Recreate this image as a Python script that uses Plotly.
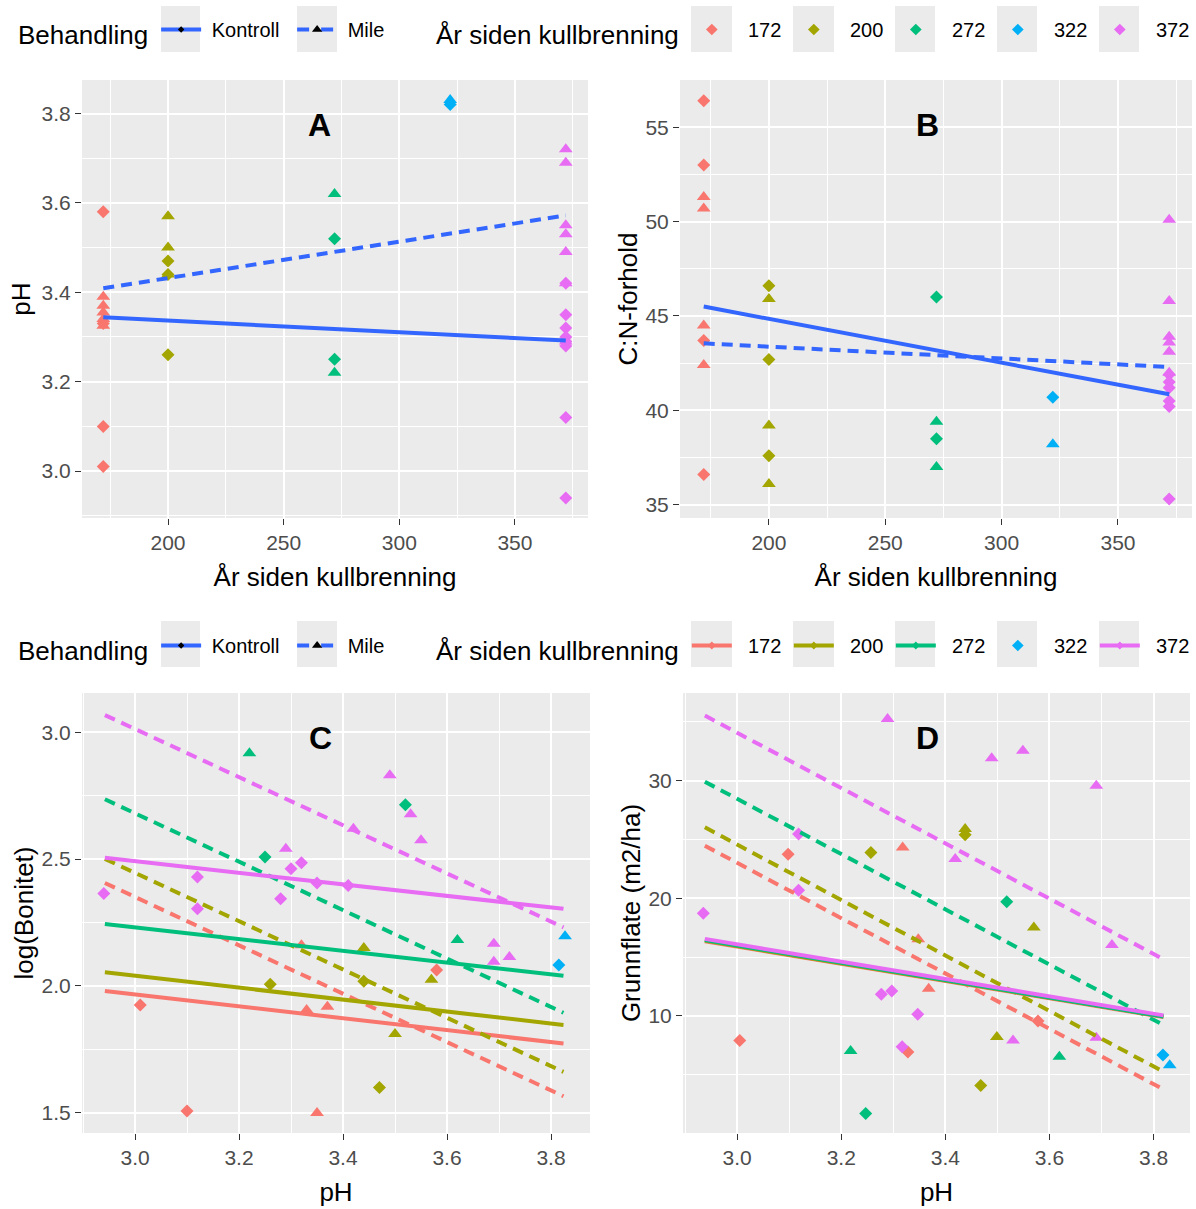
import plotly.graph_objects as go

FONT = "Liberation Sans, Arial, sans-serif"
W, H = 1196, 1209

GROUPS = ["172", "200", "272", "322", "372"]
YEARS = {"172": 172, "200": 200, "272": 272, "322": 322, "372": 372}
GROUP_COLORS = {"172": "#F8766D", "200": "#A3A500", "272": "#00BF7D", "322": "#00B0F6", "372": "#E76BF3"}
SMOOTH_BLUE = "#3366FF"
TREATMENTS = ["Kontroll", "Mile"]

# ---------------- Panel A: pH vs years since charcoal burning ----------------
A_pH_kontroll = {"172": [3.58, 3.33, 3.10, 3.01], "200": [3.47, 3.44, 3.26], "272": [3.52, 3.25],
                 "322": [3.82], "372": [3.42, 3.35, 3.32, 3.30, 3.29, 3.28, 3.12, 2.94]}
A_pH_mile = {"172": [3.39, 3.37, 3.355, 3.34, 3.325], "200": [3.57, 3.50, 3.44], "272": [3.62, 3.22],
             "322": [3.83], "372": [3.72, 3.69, 3.55, 3.53, 3.49, 3.42, 3.29]}
A_fit_years = [172, 372]
A_fit_kontroll = [3.344, 3.292]
A_fit_mile = [3.409, 3.572]

# ---------------- Panel B: C:N ratio vs years ----------------
B_cn_kontroll = {"172": [56.4, 53.0, 43.7, 36.6], "200": [46.6, 42.7, 37.6], "272": [46.0, 38.5],
                 "322": [40.7], "372": [41.9, 41.5, 41.2, 40.5, 40.2, 35.3]}
B_cn_mile = {"172": [51.3, 50.7, 44.5, 42.4], "200": [45.9, 39.2, 36.1], "272": [39.4, 37.0],
             "322": [38.2], "372": [50.1, 45.8, 43.9, 43.6, 43.1, 42.0]}
B_fit_years = [172, 372]
B_fit_kontroll = [45.5, 40.85]
B_fit_mile = [43.55, 42.3]

# ---------------- Panel C: log(Bonitet) vs pH ----------------
C_pH_kontroll = {"172": [3.01, 3.10, 3.58], "200": [3.26, 3.44, 3.47], "272": [3.25, 3.52],
                 "322": [3.815], "372": [2.94, 3.12, 3.12, 3.28, 3.30, 3.32, 3.35, 3.41]}
C_val_kontroll = {"172": [1.925, 1.507, 2.063], "200": [2.007, 2.018, 1.599], "272": [2.508, 2.714],
                  "322": [2.082], "372": [2.364, 2.429, 2.304, 2.344, 2.462, 2.486, 2.406, 2.396]}
C_pH_mile = {"172": [3.32, 3.33, 3.35, 3.37], "200": [3.44, 3.50, 3.57], "272": [3.22, 3.62],
             "322": [3.827], "372": [3.29, 3.42, 3.49, 3.53, 3.55, 3.69, 3.69, 3.72]}
C_val_mile = {"172": [2.16, 1.905, 1.499, 1.918], "200": [2.149, 1.810, 2.024], "272": [2.917, 2.181],
              "322": [2.196], "372": [2.541, 2.620, 2.831, 2.677, 2.574, 2.166, 2.095, 2.114]}
C_fit_pH = [2.942, 3.824]
C_fit_kontroll = {"172": [1.980, 1.773], "200": [2.054, 1.846], "272": [2.244, 2.040], "372": [2.505, 2.304]}
C_fit_mile = {"172": [2.406, 1.565], "200": [2.501, 1.661], "272": [2.736, 1.894], "372": [3.068, 2.231]}

# ---------------- Panel D: Grunnflate vs pH ----------------
D_pH_kontroll = {"172": [3.005, 3.098, 3.328, 3.578], "200": [3.257, 3.438, 3.468], "272": [3.247, 3.518],
                 "322": [3.818], "372": [2.935, 3.118, 3.118, 3.277, 3.297, 3.317, 3.347]}
D_val_kontroll = {"172": [7.92, 23.75, 6.94, 9.57], "200": [23.9, 25.4, 4.09], "272": [1.71, 19.70],
                  "322": [6.68], "372": [18.73, 25.46, 20.69, 11.84, 12.13, 7.39, 10.14]}
D_pH_mile = {"172": [3.318, 3.348, 3.368], "200": [3.438, 3.499, 3.570], "272": [3.218, 3.619],
             "322": [3.831], "372": [3.289, 3.419, 3.489, 3.530, 3.549, 3.690, 3.690, 3.720]}
D_val_mile = {"172": [24.32, 16.52, 12.32], "200": [25.9, 8.21, 17.51], "272": [7.02, 6.54],
              "322": [5.80], "372": [35.24, 23.33, 31.9, 7.92, 32.55, 29.57, 8.15, 16.04]}
D_fit_pH = [2.938, 3.819]
D_fit_kontroll = {"172": [16.35, 9.9], "200": [16.4, 9.95], "272": [16.45, 9.95], "372": [16.55, 10.05]}
D_fit_mile = {"172": [24.47, 3.76], "200": [26.03, 5.26], "272": [29.91, 9.23], "372": [35.53, 14.82]}

# ---------------- text ----------------
X_TITLE_YEARS = "År siden kullbrenning"
X_TITLE_PH = "pH"
Y_TITLES = ["pH", "C:N-forhold", "log(Bonitet)", "Grunnflate (m2/ha)"]
PANEL_LETTERS = ["A", "B", "C", "D"]
LEGEND_TITLE_TREAT = "Behandling"
LEGEND_TITLE_GROUP = "År siden kullbrenning"

SYMBOLS = {"Kontroll": "diamond", "Mile": "triangle-up"}
SIZES = {"Kontroll": 10, "Mile": 12}
DASHES = {"Kontroll": "solid", "Mile": "11px,7px"}

fig = go.Figure()


def add_points(xref, yref, xs_by_group, ys_by_group, treat):
    for g in GROUPS:
        ys = ys_by_group[g]
        xs = xs_by_group[g] if isinstance(xs_by_group, dict) else [YEARS[g]] * len(ys)
        fig.add_trace(go.Scatter(
            x=xs, y=ys, mode="markers", xaxis=xref, yaxis=yref, showlegend=False,
            marker=dict(symbol=SYMBOLS[treat], size=SIZES[treat], color=GROUP_COLORS[g], line=dict(width=0)),
            hoverinfo="skip"))


def add_line(xref, yref, xs, ys, color, treat):
    fig.add_trace(go.Scatter(
        x=xs, y=ys, mode="lines", xaxis=xref, yaxis=yref, showlegend=False,
        line=dict(color=color, width=4, dash=DASHES[treat]), hoverinfo="skip"))


# Panel A
add_points("x", "y", None, A_pH_kontroll, "Kontroll")
add_points("x", "y", None, A_pH_mile, "Mile")
add_line("x", "y", A_fit_years, A_fit_kontroll, SMOOTH_BLUE, "Kontroll")
add_line("x", "y", A_fit_years, A_fit_mile, SMOOTH_BLUE, "Mile")
# Panel B
add_points("x2", "y2", None, B_cn_kontroll, "Kontroll")
add_points("x2", "y2", None, B_cn_mile, "Mile")
add_line("x2", "y2", B_fit_years, B_fit_kontroll, SMOOTH_BLUE, "Kontroll")
add_line("x2", "y2", B_fit_years, B_fit_mile, SMOOTH_BLUE, "Mile")
# Panel C
add_points("x3", "y3", C_pH_kontroll, C_val_kontroll, "Kontroll")
add_points("x3", "y3", C_pH_mile, C_val_mile, "Mile")
for g in C_fit_kontroll:
    add_line("x3", "y3", C_fit_pH, C_fit_kontroll[g], GROUP_COLORS[g], "Kontroll")
    add_line("x3", "y3", C_fit_pH, C_fit_mile[g], GROUP_COLORS[g], "Mile")
# Panel D
add_points("x4", "y4", D_pH_kontroll, D_val_kontroll, "Kontroll")
add_points("x4", "y4", D_pH_mile, D_val_mile, "Mile")
for g in D_fit_kontroll:
    add_line("x4", "y4", D_fit_pH, D_fit_mile[g], GROUP_COLORS[g], "Mile")
for g in D_fit_kontroll:
    add_line("x4", "y4", D_fit_pH, D_fit_kontroll[g], GROUP_COLORS[g], "Kontroll")

# ---------------- legends (dummy entries) ----------------
NB = "\u00a0"
for leg in ["legend", "legend3"]:
    for treat in TREATMENTS:
        fig.add_trace(go.Scatter(
            x=[None], y=[None], mode="lines+markers", name=NB + treat, legend=leg, showlegend=True,
            line=dict(color=SMOOTH_BLUE, width=4, dash="solid" if treat == "Kontroll" else "dash"),
            marker=dict(symbol=SYMBOLS[treat], size=5 if treat == "Kontroll" else 9, color="black"),
            xaxis="x", yaxis="y"))
for g in GROUPS:
    fig.add_trace(go.Scatter(
        x=[None], y=[None], mode="markers", name=NB + NB + g, legend="legend2", showlegend=True,
        marker=dict(symbol="diamond", size=9, color=GROUP_COLORS[g]), xaxis="x", yaxis="y"))
for g in GROUPS:
    has_line = g != "322"
    fig.add_trace(go.Scatter(
        x=[None], y=[None], mode="lines+markers" if has_line else "markers", name=NB + NB + g,
        legend="legend4", showlegend=True,
        line=dict(color=GROUP_COLORS[g], width=4),
        marker=dict(symbol="diamond", size=6 if has_line else 9, color=GROUP_COLORS[g]),
        xaxis="x", yaxis="y"))


def px_x(p):
    return p / W


def px_y(p):
    return 1 - p / H


def axis(domain, rng, dtick, mdtick, title, standoff, fmt, anchor):
    return dict(domain=domain, range=rng, tickmode="linear", tick0=0, dtick=dtick,
                tickformat=fmt, anchor=anchor,
                showgrid=True, gridcolor="white", gridwidth=1.8,
                minor=dict(tickmode="linear", tick0=0, dtick=mdtick, showgrid=True,
                           gridcolor="white", gridwidth=0.8),
                ticks="outside", ticklen=6, tickwidth=1, tickcolor="#333333",
                tickfont=dict(family=FONT, size=21, color="#4D4D4D"),
                title=dict(text=title, font=dict(family=FONT, size=26, color="black"), standoff=standoff),
                zeroline=False, showline=False, automargin=False, fixedrange=True)


dom_top = [px_y(518), px_y(80)]
dom_bot = [px_y(1133), px_y(693)]
dA = [px_x(82), px_x(588)]
dB = [px_x(680), px_x(1192)]
dC = [px_x(82), px_x(590)]
dD = [px_x(683), px_x(1190)]

layout = dict(
    width=W, height=H, margin=dict(l=0, r=0, t=0, b=0, pad=0, autoexpand=False),
    paper_bgcolor="white", plot_bgcolor="#EBEBEB",
    font=dict(family=FONT, color="black"),
    xaxis=axis(dA, [162.8, 381.6], 50, 25, X_TITLE_YEARS, 14, "d", "y"),
    yaxis=axis(dom_top, [2.895, 3.875], 0.2, 0.1, Y_TITLES[0], 3, ".1f", "x"),
    xaxis2=axis(dB, [161.8, 381.8], 50, 25, X_TITLE_YEARS, 14, "d", "y2"),
    yaxis2=axis(dom_top, [34.3, 57.5], 5, 2.5, Y_TITLES[1], 0, "d", "x2"),
    xaxis3=axis(dC, [2.898, 3.875], 0.2, 0.1, X_TITLE_PH, 14, ".1f", "y3"),
    yaxis3=axis(dom_bot, [1.42, 3.155], 0.5, 0.25, Y_TITLES[2], 0, ".1f", "x3"),
    xaxis4=axis(dD, [2.896, 3.870], 0.2, 0.1, X_TITLE_PH, 14, ".1f", "y4"),
    yaxis4=axis(dom_bot, [0.05, 37.45], 10, 5, Y_TITLES[3], 0, "d", "x4"),
    showlegend=True,
)


def legend_cfg(x, y, title, entrywidth):
    return dict(x=x, y=y, xanchor="left", yanchor="middle", orientation="h",
                title=dict(text=title, font=dict(family=FONT, size=26, color="black"), side="left"),
                font=dict(family=FONT, size=20, color="black"),
                itemwidth=40, entrywidth=entrywidth, entrywidthmode="pixels",
                bgcolor="rgba(0,0,0,0)", borderwidth=0,
                itemclick=False, itemdoubleclick=False)


layout["legend"] = legend_cfg(px_x(16), px_y(32), LEGEND_TITLE_TREAT, 81)
layout["legend2"] = legend_cfg(px_x(434), px_y(32), LEGEND_TITLE_GROUP, 47)
layout["legend3"] = legend_cfg(px_x(16), px_y(648), LEGEND_TITLE_TREAT, 81)
layout["legend4"] = legend_cfg(px_x(434), px_y(648), LEGEND_TITLE_GROUP, 47)

# grey key backgrounds
shapes = []
KEY_X_TREAT = [(161, 200), (297, 337)]
KEY_X_GROUP = [(691, 732), (793, 834), (895, 935), (997, 1037), (1099, 1139)]
for (y0, y1) in [(6, 52), (621, 667)]:
    for (x0, x1) in KEY_X_TREAT + KEY_X_GROUP:
        shapes.append(dict(type="rect", xref="paper", yref="paper", x0=px_x(x0), x1=px_x(x1),
                           y0=px_y(y1), y1=px_y(y0), fillcolor="#EBEBEB", line=dict(width=0),
                           layer="below"))
layout["shapes"] = shapes

annotations = []
for letter, xa, ya, fx in zip(PANEL_LETTERS, ["x", "x2", "x3", "x4"], ["y", "y2", "y3", "y4"],
                              [0.470, 0.484, 0.470, 0.483]):
    annotations.append(dict(text="<b>%s</b>" % letter, xref=xa + " domain", yref=ya + " domain",
                            x=fx, y=0.898, showarrow=False, xanchor="center", yanchor="middle",
                            font=dict(family=FONT, size=32, color="black")))
layout["annotations"] = annotations

fig.update_layout(**layout)
fig.write_html("out.html", config={"displayModeBar": False},
               post_script="document.body.style.margin='0px';")
